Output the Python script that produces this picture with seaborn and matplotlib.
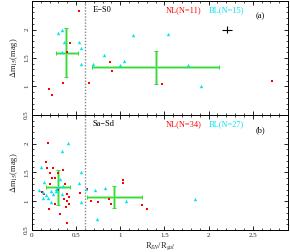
import numpy as np
import pandas as pd
import matplotlib
matplotlib.use("Agg")
import matplotlib.pyplot as plt
import seaborn as sns
from matplotlib.ticker import MultipleLocator

sns.set_theme(style="ticks")
plt.rcParams['font.family'] = ['Liberation Serif', 'DejaVu Serif']
plt.rcParams['mathtext.fontset'] = 'stix'

# ---- data: panel (a) E-S0 ----
a_nl_x = [0.527, 0.428, 0.350, 0.193, 0.223, 0.648, 0.879, 0.909, 1.47, 2.72, 0.40]
a_nl_y = [2.33, 1.77, 1.06, 0.953, 0.853, 1.06, 1.424, 1.273, 1.045, 1.10, 1.60]
a_bl_x = [0.296, 0.345, 0.364, 0.337, 0.527, 0.557, 0.557, 0.69, 0.818, 1.0, 1.042, 1.144, 1.54, 1.766, 1.917]
a_bl_y = [1.93, 2.0, 1.78, 1.60, 1.78, 1.68, 1.39, 1.39, 1.56, 1.37, 1.44, 1.90, 1.92, 1.37, 1.0]

# ---- data: panel (b) Sa-Sd ----
b_nl_x = [0.186, 0.163, 0.174, 0.239, 0.205, 0.228, 0.296, 0.353, 0.114, 0.136,
          0.193, 0.258, 0.322, 0.375, 0.36, 0.402, 0.417, 0.386, 0.402, 0.394,
          0.542, 0.622, 0.663, 0.747, 0.868, 0.898, 1.027, 1.027, 1.243, 1.30,
          0.417, 0.255, 0.30, 0.20]
b_nl_y = [2.02, 1.675, 1.577, 1.577, 1.483, 1.40, 1.483, 1.547, 1.158, 1.124,
          0.861, 0.948, 0.785, 1.308, 1.046, 1.011, 0.953, 0.901, 1.13, 0.627,
          1.135, 1.21, 1.006, 0.983, 1.035, 0.96, 1.372, 1.325, 0.93, 0.872,
          1.07, 1.40, 1.20, 1.30]
b_bl_x = [0.099, 0.341, 0.405, 0.314, 0.296, 0.14, 0.122, 0.129, 0.22, 0.239,
          0.273, 0.183, 0.341, 0.349, 0.22, 0.527, 0.557, 0.557, 0.617, 0.709,
          0.735, 0.83, 1.065, 1.845, 0.08, 0.16, 0.27]
b_bl_y = [1.594, 1.867, 2.018, 1.395, 1.256, 1.343, 1.163, 1.053, 1.176, 1.13,
          1.176, 1.065, 1.13, 1.26, 0.983, 1.315, 1.507, 0.983, 1.21, 1.198,
          0.687, 1.233, 1.006, 1.036, 1.19, 1.10, 1.22]

# green mean crosses: centre x, y, x-err low/high, y-err low/high
a_cross_x = [0.39, 1.406]
a_cross_y = [1.59, 1.337]
a_cross_xlo = [0.27, 0.68]
a_cross_xhi = [0.52, 2.12]
a_cross_ylo = [1.16, 1.04]
a_cross_yhi = [2.02, 1.63]
b_cross_x = [0.29, 0.93]
b_cross_y = [1.245, 1.08]
b_cross_xlo = [0.156, 0.62]
b_cross_xhi = [0.425, 1.25]
b_cross_ylo = [0.935, 0.89]
b_cross_yhi = [1.535, 1.26]

panels = [
    dict(nlx=a_nl_x, nly=a_nl_y, blx=a_bl_x, bly=a_bl_y, cx=a_cross_x, cy=a_cross_y,
         xlo=a_cross_xlo, xhi=a_cross_xhi, ylo=a_cross_ylo, yhi=a_cross_yhi,
         name="E\u2212S0", nl="NL(N=11)", bl="BL(N=15)", tag="(a)"),
    dict(nlx=b_nl_x, nly=b_nl_y, blx=b_bl_x, bly=b_bl_y, cx=b_cross_x, cy=b_cross_y,
         xlo=b_cross_xlo, xhi=b_cross_xhi, ylo=b_cross_ylo, yhi=b_cross_yhi,
         name="Sa\u2212Sd", nl="NL(N=34)", bl="BL(N=27)", tag="(b)"),
]

fig = plt.figure(figsize=(2.9, 2.52), dpi=100)
L, R = 32/290, 288/290
ax_a = fig.add_axes([L, 1-115/252, R-L, 114/252])
ax_b = fig.add_axes([L, 1-230/252, R-L, 115/252])

RED = "#ff0000"
CYAN = "#00e5ee"
GREEN = "#33dd33"
PALE = "#99ee99"

for ax, p in zip([ax_a, ax_b], panels):
    ax.set_facecolor("white")
    ax.axvline(0.6, color="#888888", ls=(0, (1, 1.2)), lw=1.0, zorder=1)
    for cx, cy, xlo, xhi, ylo, yhi in zip(p["cx"], p["cy"], p["xlo"], p["xhi"], p["ylo"], p["yhi"]):
        xe = [[cx - xlo], [xhi - cx]]
        ye = [[cy - ylo], [yhi - cy]]
        ax.errorbar([cx], [cy], xerr=xe, yerr=ye, fmt="none", ecolor=PALE,
                    elinewidth=2.0, capsize=0, zorder=2)
        ax.errorbar([cx], [cy], xerr=xe, yerr=ye, fmt="none", ecolor=GREEN,
                    elinewidth=0.7, capsize=1.5, capthick=0.7, zorder=3)
    df_nl = pd.DataFrame({"x": p["nlx"], "y": p["nly"]})
    df_bl = pd.DataFrame({"x": p["blx"], "y": p["bly"]})
    sns.scatterplot(data=df_nl, x="x", y="y", ax=ax, color=RED, marker="s",
                    s=4, linewidth=0, zorder=4)
    sns.scatterplot(data=df_bl, x="x", y="y", ax=ax, color=CYAN, marker="^",
                    s=6, linewidth=0, zorder=4)
    ax.set_xlim(0, 2.9)
    ax.set_ylim(0.5, 2.5)
    ax.set_yticks([0.5, 1, 1.5, 2])
    ax.set_yticklabels(["0.5", "1", "1.5", "2"], rotation=90, va="center", fontsize=5)
    ax.xaxis.set_major_locator(MultipleLocator(0.5))
    ax.xaxis.set_minor_locator(MultipleLocator(0.1))
    ax.yaxis.set_minor_locator(MultipleLocator(0.1))
    ax.tick_params(which="both", direction="in", top=True, right=True, color="black",
                   pad=2)
    ax.tick_params(which="major", length=3, width=0.6)
    ax.tick_params(which="minor", length=1.5, width=0.5)
    for s in ax.spines.values():
        s.set_linewidth(0.7)
        s.set_color("black")
    ax.set_ylabel(r"$\Delta$m$_{15}$(mag)", fontsize=6, labelpad=3)
    ax.set_xlabel("")
    ax.text(0.69, 2.34, p["name"], fontsize=6, color="black", va="center")
    ax.text(1.51, 2.34, p["nl"], fontsize=6, color=RED, va="center")
    ax.text(2.0, 2.34, p["bl"], fontsize=6, color=CYAN, va="center")
    ax.text(2.53, 2.24, p["tag"], fontsize=6, color="black", va="center")

# calibration cross in panel (a)
ax_a.errorbar([2.21], [2.0], xerr=[0.06], yerr=[0.06], fmt="none", ecolor="black",
              elinewidth=0.8, capsize=0)
ax_a.tick_params(axis="x", labelbottom=False)
ax_b.set_xticks([0, 0.5, 1, 1.5, 2, 2.5])
ax_b.set_xticklabels(["0", "0.5", "1", "1.5", "2", "2.5"], fontsize=5)
ax_b.set_xlabel(r"R$_{SN}$/R$_{gal}$", fontsize=6, labelpad=2)

fig.savefig("out.png", dpi=100)
